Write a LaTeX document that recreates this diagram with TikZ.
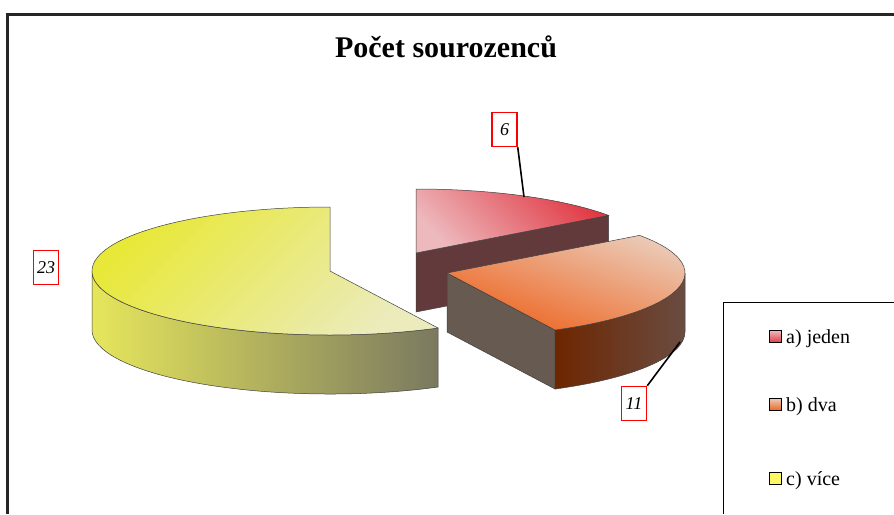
\documentclass[tikz,border=0pt]{standalone}
\usepackage{fontspec}
\setmainfont{Liberation Serif}
\usetikzlibrary{calc}

\definecolor{yTop}{HTML}{E8E838}
\definecolor{yBot}{HTML}{EBEBBC}
\definecolor{ySideL}{HTML}{E6E65C}
\definecolor{ySideM}{HTML}{DCDBA6}
\definecolor{ySideR}{HTML}{7A7960}
\definecolor{aTop}{HTML}{E13A45}
\definecolor{aBot}{HTML}{EDB9BD}
\definecolor{aFace}{HTML}{633A3C}
\definecolor{bTop}{HTML}{EBCBB8}
\definecolor{bBot}{HTML}{EE6420}
\definecolor{bFace}{HTML}{675A50}
\definecolor{bSideL}{HTML}{6D2600}
\definecolor{bSideR}{HTML}{6A4C42}

\begin{document}
\begin{tikzpicture}[x=1pt,y=1pt,
  edg/.style={draw=black!75,line width=0.5pt},
  val/.style={draw=red,line width=1.5pt,fill=white,minimum height=34pt,minimum width=25pt,inner sep=3pt,font=\fontsize{18}{18}\selectfont\itshape},
  lead/.style={line width=1.6pt},
  key/.style={draw,line width=1.5pt,minimum size=12pt,inner sep=0pt},
  keytxt/.style={anchor=west,inner sep=0pt,font=\fontsize{20}{20}\selectfont}]

\useasboundingbox (0,0) rectangle (894,-514);
\draw[line width=3pt,black!85] (7.5,-514) -- (7.5,-14.5) -- (894,-14.5);

\node[font=\fontsize{30}{30}\selectfont\bfseries] (title) at (446,-47) {Počet sourozenců};

% a) jeden
\coordinate (Ca) at (416,-253);
\fill[fill=aFace,edg] ($(Ca)+(36:238pt and 64pt)$) -- ++(0,-59) -- ($(Ca)+(0,-59)$) -- (Ca) -- cycle;
\draw[edg,top color=aTop,bottom color=aBot,shading angle=-45] (Ca) -- ++(0,64) arc[start angle=90,end angle=36,x radius=238pt,y radius=64pt] -- cycle;

% c) vice
\coordinate (Cc) at (330,-271);
\draw[edg,left color=ySideL,middle color=ySideM,right color=ySideR] ($(Cc)+(180:238pt and 64pt)$) arc[start angle=180,end angle=297,x radius=238pt,y radius=64pt] -- ++(0,-59) arc[start angle=297,end angle=180,x radius=238pt,y radius=64pt] -- cycle;
\draw[edg,top color=yTop,bottom color=yBot,shading angle=45] (Cc) -- ++(0,64) arc[start angle=90,end angle=297,x radius=238pt,y radius=64pt] -- cycle;

% b) dva
\coordinate (Cb) at (447,-273);
\fill[fill=bFace,edg] (Cb) -- ($(Cb)+(-63:238pt and 64pt)$) -- ++(0,-59) -- ($(Cb)+(0,-59)$) -- cycle;
\draw[edg,left color=bSideL,right color=bSideR] ($(Cb)+(-63:238pt and 64pt)$) arc[start angle=-63,end angle=0,x radius=238pt,y radius=64pt] -- ++(0,-59) arc[start angle=0,end angle=-63,x radius=238pt,y radius=64pt] -- cycle;
\draw[edg,top color=bTop,bottom color=bBot,shading angle=-20] (Cb) -- ($(Cb)+(36:238pt and 64pt)$) arc[start angle=36,end angle=-63,x radius=238pt,y radius=64pt] -- cycle;

% value labels
\node[val] (v6) at (504.5,-129.5) {6};
\node[val] (v11) at (634,-403.5) {11};
\node[val] (v23) at (46,-267.5) {23};
\coordinate (p6) at (524,-197);
\coordinate (p11) at (680,-342);
\draw[lead] (v6.south east) -- (p6);
\draw[lead] (v11.north east) -- (p11);

% legend
\draw[line width=1pt] (894,-302) -- (723,-302) -- (723,-514);
\node[key,top color=aBot,bottom color=aTop] (ka) at (775.5,-336.5) {};
\node[key,top color=bTop,bottom color=bBot] (kb) at (775.5,-404.5) {};
\node[key,fill=yellow!60!white] (kc) at (775.5,-478.5) {};
\node[keytxt] (ta) at (786,-339) {a) jeden};
\node[keytxt] (tb) at (786,-407) {b) dva};
\node[keytxt] (tc) at (786,-481) {c) více};

\end{tikzpicture}
\end{document}
